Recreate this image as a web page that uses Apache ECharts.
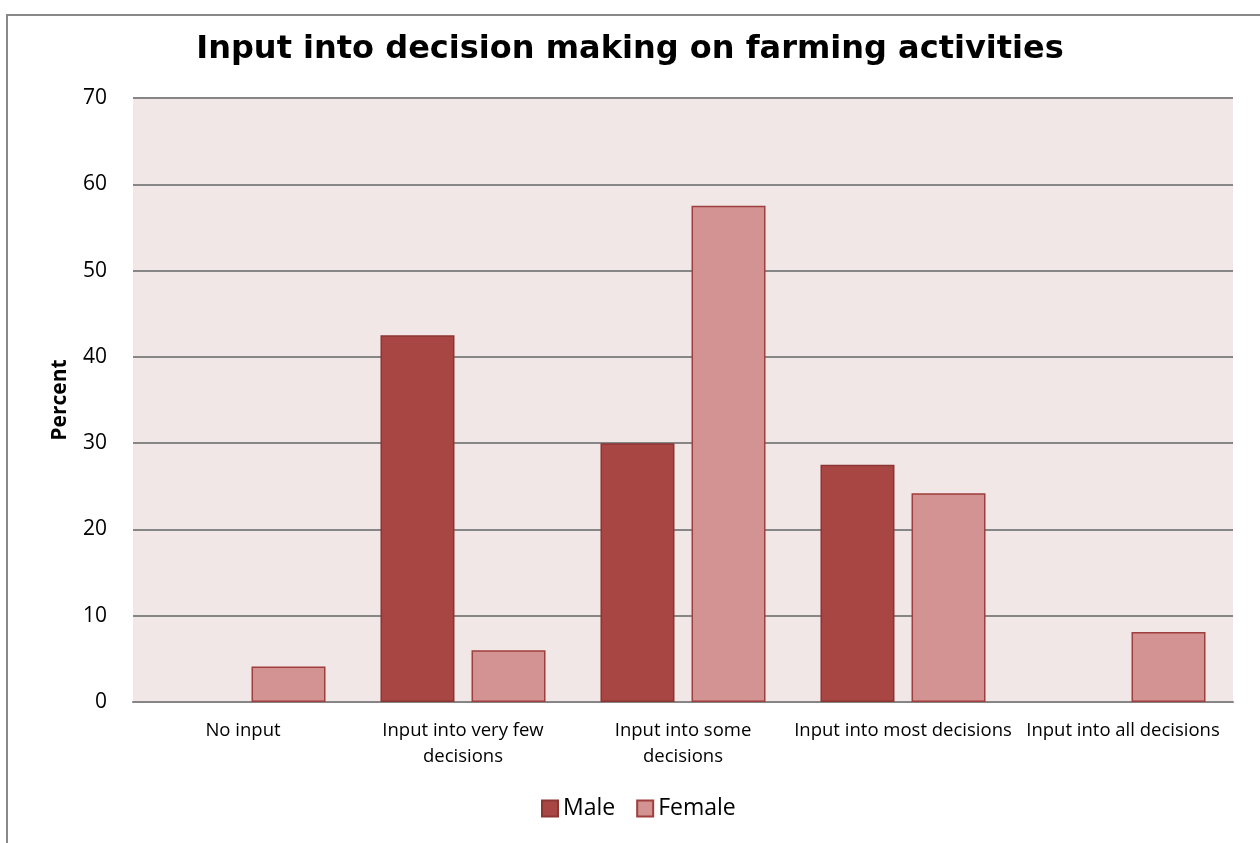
<!DOCTYPE html>
<html>
<head>
<meta charset="utf-8">
<script src="https://cdn.jsdelivr.net/npm/echarts@6/dist/echarts.min.js"></script>
<style>
  html, body { margin: 0; padding: 0; background: #fff; }
  #main { width: 1260px; height: 843px; }
</style>
</head>
<body>
<div id="main"></div>
<script>
// categories and values
const categories = [
  'No input',
  'Input into very few\ndecisions',
  'Input into some\ndecisions',
  'Input into most decisions',
  'Input into all decisions'
];
const maleValues = [0, 42.5, 30, 27.5, 0];
const femaleValues = [4.1, 6, 57.5, 24.2, 8.1];
const yTicks = [0, 10, 20, 30, 40, 50, 60, 70];

const chart = echarts.init(document.getElementById('main'), null, { renderer: 'canvas' });

const labelFont = '"Open Sans", "Liberation Sans", sans-serif';

// zero bars get no outline so nothing shows on the axis
function barData(values) {
  return values.map(v => v === 0 ? { value: v, itemStyle: { borderWidth: 0 } } : v);
}

const option = {
  animation: false,
  backgroundColor: '#ffffff',
  title: {
    text: 'Input into decision making on farming activities',
    left: 'center',
    top: 29,
    textStyle: {
      fontFamily: '"DejaVu Sans", Verdana, sans-serif',
      fontWeight: 'bold',
      fontSize: 32,
      color: '#000'
    }
  },
  graphic: [{
    type: 'rect',
    shape: { x: 7, y: 15, width: 1300, height: 900 },
    style: { fill: 'none', stroke: '#888', lineWidth: 2 },
    silent: true,
    z: -1
  }],
  legend: {
    bottom: 18,
    left: 536,
    itemWidth: 16,
    itemHeight: 16,
    itemGap: 21,
    icon: 'rect',
    textStyle: { fontFamily: labelFont, fontSize: 23, color: '#000' },
    data: ['Male', 'Female']
  },
  grid: {
    left: 133,
    right: 27,
    top: 98,
    bottom: 141,
    show: true,
    backgroundColor: '#f2e7e7',
    borderWidth: 0
  },
  xAxis: {
    type: 'category',
    data: categories,
    axisLine: { show: true, lineStyle: { color: '#868686', width: 2 } },
    axisTick: { show: false },
    axisLabel: {
      fontFamily: labelFont,
      fontSize: 18.5,
      color: '#000',
      margin: 16,
      lineHeight: 26,
      interval: 0
    }
  },
  yAxis: {
    type: 'value',
    min: yTicks[0],
    max: yTicks[yTicks.length - 1],
    interval: 10,
    name: 'Percent',
    nameLocation: 'middle',
    nameGap: 62,
    nameTextStyle: {
      fontFamily: labelFont,
      fontWeight: 'bold',
      fontSize: 21,
      color: '#000'
    },
    axisLine: { show: false },
    axisTick: { show: false },
    axisLabel: {
      fontFamily: labelFont,
      fontSize: 21,
      color: '#000',
      margin: 26
    },
    splitLine: { show: true, lineStyle: { color: '#868686', width: 2 } }
  },
  series: [
    {
      name: 'Male',
      type: 'bar',
      data: barData(maleValues),
      barWidth: 74,
      barGap: '23%',
      itemStyle: { color: '#a84644', borderColor: '#8c3634', borderWidth: 1.5 }
    },
    {
      name: 'Female',
      type: 'bar',
      data: barData(femaleValues),
      barWidth: 74,
      barGap: '23%',
      itemStyle: { color: '#d39393', borderColor: '#9e3f3d', borderWidth: 1.5 }
    }
  ]
};

chart.setOption(option);
</script>
</body>
</html>
